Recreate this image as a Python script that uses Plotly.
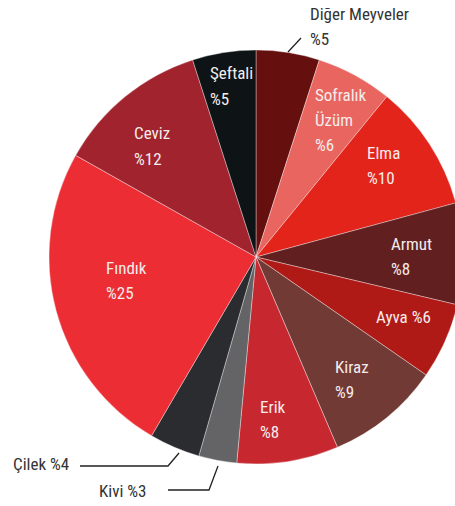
import plotly.graph_objects as go

# ---- data ----
categories = ["Diğer Meyveler", "Sofralık Üzüm", "Elma", "Armut", "Ayva", "Kiraz",
              "Erik", "Kivi", "Çilek", "Fındık", "Ceviz", "Şeftali"]
shares = [5, 6, 10, 8, 6, 9, 8, 3, 4, 25, 12, 5]
label_lines = [["Diğer Meyveler"], ["Sofralık", "Üzüm"], ["Elma"], ["Armut"], ["Ayva"],
               ["Kiraz"], ["Erik"], ["Kivi"], ["Çilek"], ["Fındık"], ["Ceviz"], ["Şeftali"]]
pct_same_line = [False, False, False, False, True, False, False, True, True, False, False, False]

# ---- style ----
colors = ["#650f0e", "#e8665f", "#e3241b", "#611f1f", "#b01a16", "#723a35",
          "#c7282f", "#646466", "#2a2c2f", "#ec2d34", "#a0232d", "#0e1316"]
outside = [True, False, False, False, False, False, False, True, True, False, False, False]
# label anchor: left x, centre y of first line (pixels in the browser window)
label_pos = [(308, 14), (313, 95), (365, 153), (389, 243.5), (374, 317), (333, 366.5),
             (258, 407), (97, 491), (11, 463.5), (104, 268), (132, 133.5), (208, 73.5)]
LINE_H = 25
FONT = "Liberation Sans Narrow, Arial Narrow, Roboto Condensed, sans-serif"

OFF = 0
W, H = 463, 506
CX, CY, R = 256, 257, 207   # window pixels


def px(x):
    return (x - OFF) / W


def py(y):
    return 1 - (y - OFF) / H


fig = go.Figure(go.Pie(
    labels=categories, values=shares, sort=False, direction="clockwise", rotation=0,
    marker=dict(colors=colors, line=dict(color="rgba(255,255,255,0.6)", width=0.6)),
    textinfo="none", hoverinfo="label+value", showlegend=False,
    domain=dict(x=[px(CX - R), min(1, px(CX + R))], y=[py(CY + R), py(CY - R)]),
))

annotations = []
for cat, lines, same, v, out, (lx, ly) in zip(categories, label_lines, pct_same_line,
                                                shares, outside, label_pos):
    texts = list(lines)
    if same:
        texts[-1] = texts[-1] + " %" + str(v)
    else:
        texts.append("%" + str(v))
    for i, t in enumerate(texts):
        annotations.append(dict(
            x=px(lx), y=py(ly + i * LINE_H), xref="paper", yref="paper",
            xanchor="left", yanchor="middle", showarrow=False, text=t,
            font=dict(family=FONT, size=17, color="#333333" if out else "#f5ecec"),
        ))

# leader lines for the outside labels
leaders = [
    [(288, 52), (301, 38)],
    [(179, 453), (168, 466), (80, 466)],
    [(218, 466), (209, 490), (168, 490)],
]
shapes = []
for pts in leaders:
    path = "M " + " L ".join(f"{px(x)},{py(y)}" for x, y in pts)
    shapes.append(dict(type="path", xref="paper", yref="paper", path=path,
                       line=dict(color="#222222", width=1.3)))

fig.update_layout(
    width=W, height=H, margin=dict(l=0, r=0, t=0, b=0),
    paper_bgcolor="white", plot_bgcolor="white",
    annotations=annotations, shapes=shapes,
)
fig.write_html(
    "out.html", config={"displayModeBar": False},
    post_script="document.body.style.margin='0';document.body.style.overflow='hidden';",
)
